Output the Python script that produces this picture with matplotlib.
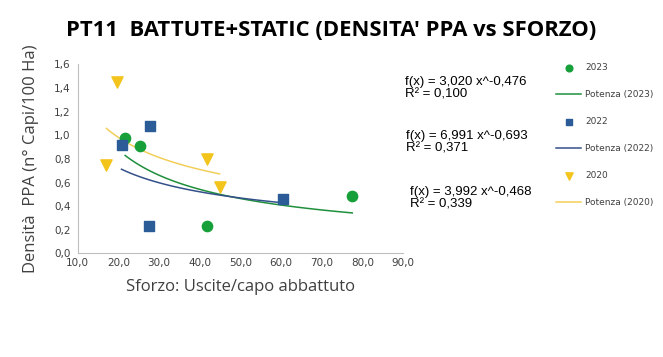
import matplotlib
matplotlib.use("Agg")
import matplotlib.pyplot as plt
import numpy as np

# punti osservati (sforzo, densita')
x_2023 = [21.7, 25.3, 41.9, 77.5]
y_2023 = [0.98, 0.91, 0.23, 0.49]
x_2022 = [20.8, 27.8, 27.5, 60.6]
y_2022 = [0.92, 1.08, 0.23, 0.46]
x_2020 = [19.7, 17.1, 41.9, 44.9]
y_2020 = [1.45, 0.75, 0.80, 0.56]

# curve di tendenza di potenza: a * x^b
coef_2023 = (6.991, -0.693)
coef_2022 = (3.020, -0.476)
coef_2020 = (3.992, -0.468)

eq_labels = ["f(x) = 3,020 x^-0,476\nR² = 0,100",
             "f(x) = 6,991 x^-0,693\nR² = 0,371",
             "f(x) = 3,992 x^-0,468\nR² = 0,339"]

green = "#17a03a"
blue = "#2b5c98"
yellow = "#f3c41c"

fig = plt.figure(figsize=(6.63, 3.57), dpi=100)
ax = fig.add_axes([0.117, 0.29, 0.491, 0.53])


def trend(xs, coef):
    xx = np.linspace(min(xs), max(xs), 100)
    return xx, coef[0] * xx ** coef[1]


ax.scatter(x_2023, y_2023, s=55, marker="o", color=green, label="2023", zorder=3)
xx, yy = trend(x_2023, coef_2023)
ax.plot(xx, yy, color="#1f8f3c", lw=1.1, label="Potenza (2023)")
ax.scatter(x_2022, y_2022, s=55, marker="s", color=blue, label="2022", zorder=3)
xx, yy = trend(x_2022, coef_2022)
ax.plot(xx, yy, color="#34508a", lw=1.1, label="Potenza (2022)")
ax.scatter(x_2020, y_2020, s=65, marker="v", color=yellow, label="2020", zorder=3)
xx, yy = trend(x_2020, coef_2020)
ax.plot(xx, yy, color="#f2cf5a", lw=1.1, label="Potenza (2020)")

ax.set_xlim(10, 90)
ax.set_ylim(0, 1.6)
xt = np.arange(10, 91, 10)
yt = np.arange(0, 1.61, 0.2)
ax.set_xticks(xt)
ax.set_yticks(yt)
ax.set_xticklabels([f"{v:.1f}".replace(".", ",") for v in xt])
ax.set_yticklabels([f"{v:.1f}".replace(".", ",") for v in yt])
ax.tick_params(length=0, labelsize=7.5, colors="#404040")
ax.tick_params(axis="y", pad=5)
ax.tick_params(axis="x", pad=3)
for s in ["top", "right"]:
    ax.spines[s].set_visible(False)
for s in ["left", "bottom"]:
    ax.spines[s].set_color("#bfbfbf")

ax.set_xlabel("Sforzo: Uscite/capo abbattuto", fontsize=12, color="#404040",
              family="Open Sans", labelpad=8)
ax.set_ylabel("Densità  PPA (n° Capi/100 Ha)", fontsize=12, color="#404040",
              family="Open Sans", labelpad=11)

fig.text(0.50, 0.90, "PT11  BATTUTE+STATIC (DENSITA' PPA vs SFORZO)",
         ha="center", fontsize=15.8, fontweight="bold", family="Open Sans")

eq_pos = [(405, 88), (406, 142), (410, 198)]
for (px, py), t in zip(eq_pos, eq_labels):
    fig.text(px / 663, 1 - py / 357, t, fontsize=9.5, family="Liberation Sans",
             va="center", linespacing=1.1)

leg = ax.legend(loc="upper left", bbox_to_anchor=(1.445, 1.05), frameon=False,
                fontsize=6.5, labelspacing=2.0, handlelength=2.8,
                markerscale=0.65, handletextpad=0.45)
for t in leg.get_texts():
    t.set_color("#404040")

fig.savefig("out.png", dpi=100)
